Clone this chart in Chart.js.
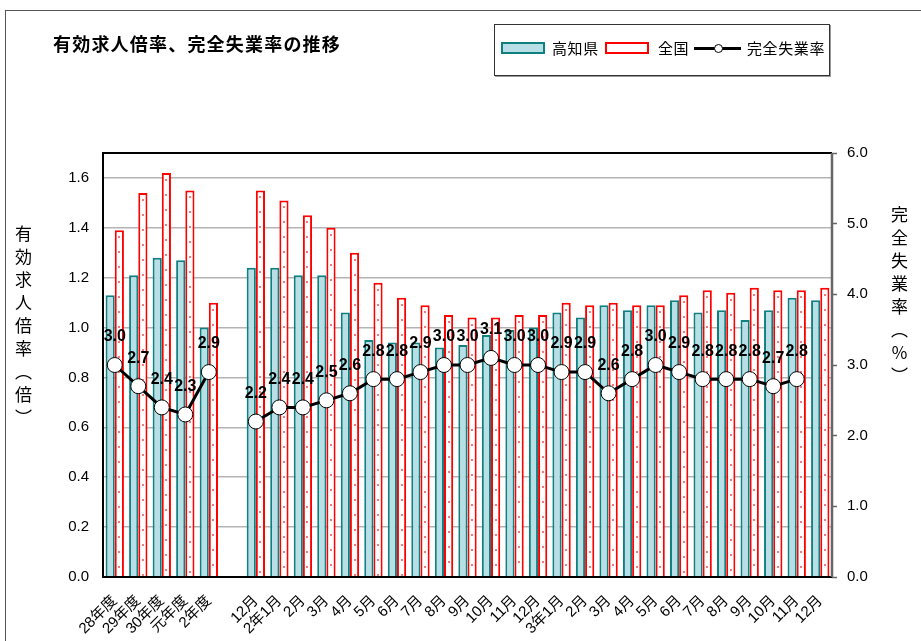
<!DOCTYPE html>
<html lang="ja">
<head>
<meta charset="utf-8">
<script src="https://cdn.jsdelivr.net/npm/chart.js@4.4.0/dist/chart.umd.min.js"></script>
<style>
  body { margin: 0; background: #fff; }
  #wrap { position: relative; width: 921px; height: 641px; overflow: hidden; font-family: "Liberation Sans", "Noto Sans CJK JP", sans-serif; }
  #frame { position: absolute; left: 5px; top: 10px; width: 960px; height: 700px; border: 1px solid #555; }
  #chart { position: absolute; left: 0; top: 0; }
  #title { position: absolute; left: 53px; top: 30px; font: bold 18px "Noto Sans CJK JP", sans-serif; letter-spacing: 1.2px; color: #000; white-space: nowrap; }
  #legend { position: absolute; left: 494px; top: 24px; width: 334px; height: 50px; border: 1px solid #333; box-shadow: 1px 1px 0 #999; background: #fff; }
  #legend .sw { position: absolute; top: 17px; width: 40px; height: 8px; }
  #legend .txt { position: absolute; top: 13px; font: 15px "Noto Sans CJK JP", sans-serif; letter-spacing: 0.6px; line-height: 20px; white-space: nowrap; }
  .ytitle { position: absolute; writing-mode: vertical-rl; font: 17px "Noto Sans CJK JP", sans-serif; letter-spacing: 6px; color: #000; }
</style>
</head>
<body>
<div id="wrap">
  <div id="frame"></div>
  <canvas id="chart" width="921" height="641"></canvas>
  <div id="title">有効求人倍率、完全失業率の推移</div>
  <div id="legend">
    <div class="sw" style="left:6px;background:#b8dee6;border:2px solid #0e8080;"></div>
    <div class="txt" style="left:57px;">高知県</div>
    <div class="sw" style="left:110px;background:#fff;border:2px solid #ff0000;"></div>
    <div class="txt" style="left:163px;">全国</div>
    <div style="position:absolute;left:199px;top:22px;width:47px;height:3px;background:#000;"></div>
    <div style="position:absolute;left:219px;top:19px;width:7px;height:7px;border:1px solid #000;border-radius:50%;background:#fff;"></div>
    <div class="txt" style="left:252px;">完全失業率</div>
  </div>
  <div class="ytitle" style="left:11px;top:225px;">有効求人倍率（倍）</div>
  <div class="ytitle" style="left:887px;top:206px;">完全失業率（％）</div>
</div>
<script>
// categories: fiscal years, an empty slot, then months
const labels = ["28年度", "29年度", "30年度", "元年度", "2年度", "",
  "12月", "2年1月", "2月", "3月", "4月", "5月", "6月", "7月", "8月", "9月", "10月", "11月", "12月",
  "3年1月", "2月", "3月", "4月", "5月", "6月", "7月", "8月", "9月", "10月", "11月", "12月"];

// 有効求人倍率 (倍)
const kochi = [1.13, 1.21, 1.28, 1.27, 1.00, null,
  1.24, 1.24, 1.21, 1.21, 1.06, 0.95, 0.94, 0.94, 0.92, 0.93, 0.97, 0.99, 1.00,
  1.06, 1.04, 1.09, 1.07, 1.09, 1.11, 1.06, 1.07, 1.03, 1.07, 1.12, 1.11];
const zenkoku = [1.39, 1.54, 1.62, 1.55, 1.10, null,
  1.55, 1.51, 1.45, 1.40, 1.30, 1.18, 1.12, 1.09, 1.05, 1.04, 1.04, 1.05, 1.05,
  1.10, 1.09, 1.10, 1.09, 1.09, 1.13, 1.15, 1.14, 1.16, 1.15, 1.15, 1.16];

// 完全失業率 (%)
const unemployment = [3.0, 2.7, 2.4, 2.3, 2.9, null,
  2.2, 2.4, 2.4, 2.5, 2.6, 2.8, 2.8, 2.9, 3.0, 3.0, 3.1, 3.0, 3.0,
  2.9, 2.9, 2.6, 2.8, 3.0, 2.9, 2.8, 2.8, 2.8, 2.7, 2.8, null];

const FONT = '"Liberation Sans", "Noto Sans CJK JP", sans-serif';

// frame round the plot area
const plotBorder = {
  id: 'plotBorder',
  afterDatasetsDraw(chart) {
    const { ctx, chartArea: a } = chart;
    ctx.save();
    ctx.strokeStyle = '#000';
    ctx.lineWidth = 2;
    ctx.beginPath();
    ctx.moveTo(a.right, a.top);
    ctx.lineTo(a.left, a.top);
    ctx.lineTo(a.left, a.bottom);
    ctx.lineTo(a.right, a.bottom);
    ctx.stroke();
    ctx.strokeStyle = '#666';
    ctx.lineWidth = 2.5;
    ctx.beginPath();
    ctx.moveTo(a.right, a.top);
    ctx.lineTo(a.right, a.bottom);
    ctx.stroke();
    ctx.restore();
  }
};

// small dots inside the 全国 bars
const dotFill = {
  id: 'dotFill',
  afterDatasetDraw(chart, args) {
    if (args.index !== 1) return;
    const ctx = chart.ctx;
    ctx.save();
    ctx.fillStyle = '#f27a7a';
    args.meta.data.forEach((bar, i) => {
      if (zenkoku[i] == null) return;
      const p = bar.getProps(['x', 'y', 'base'], true);
      for (let y = p.y + 6; y < p.base - 2; y += 15) {
        ctx.fillRect(Math.round(p.x) - 1, Math.round(y), 2, 2);
      }
    });
    ctx.restore();
  }
};

// value labels above the line points
const pointLabels = {
  id: 'pointLabels',
  afterDatasetsDraw(chart) {
    const ctx = chart.ctx;
    const meta = chart.getDatasetMeta(2);
    ctx.save();
    ctx.font = 'bold 16px "Liberation Sans", sans-serif';
    ctx.fillStyle = '#000';
    ctx.textAlign = 'center';
    ctx.textBaseline = 'middle';
    meta.data.forEach((pt, i) => {
      const v = unemployment[i];
      if (v == null) return;
      ctx.fillText(v.toFixed(1), pt.x, pt.y - 28);
    });
    ctx.restore();
  }
};

new Chart(document.getElementById('chart'), {
  data: {
    labels: labels,
    datasets: [
      {
        type: 'bar',
        label: '高知県',
        data: kochi,
        backgroundColor: '#b8dee6',
        borderColor: '#0e8080',
        borderWidth: 2,
        yAxisID: 'y',
        order: 1,
        barPercentage: 1.0,
        categoryPercentage: 0.78
      },
      {
        type: 'bar',
        label: '全国',
        data: zenkoku,
        backgroundColor: '#fff',
        borderColor: '#ff0000',
        borderWidth: 2,
        yAxisID: 'y',
        order: 2,
        barPercentage: 1.0,
        categoryPercentage: 0.78
      },
      {
        type: 'line',
        label: '完全失業率',
        data: unemployment,
        borderColor: '#000',
        borderWidth: 3,
        pointRadius: 7.5,
        pointBackgroundColor: '#fff',
        pointBorderColor: '#000',
        pointBorderWidth: 1,
        spanGaps: false,
        tension: 0,
        yAxisID: 'y1',
        order: 0
      }
    ]
  },
  options: {
    responsive: false,
    animation: false,
    layout: { padding: { top: 153, left: 0, right: 0, bottom: 0 } },
    plugins: {
      legend: { display: false },
      tooltip: { enabled: false }
    },
    scales: {
      x: {
        grid: { display: false },
        border: { display: false },
        ticks: {
          autoSkip: false,
          maxRotation: 45,
          minRotation: 45,
          padding: 7,
          color: '#000',
          font: { family: FONT, size: 15 }
        },
        afterFit(scale) { scale.height = 64; }
      },
      y: {
        position: 'left',
        min: 0,
        max: 1.7,
        ticks: {
          stepSize: 0.2,
          includeBounds: false,
          padding: 14,
          color: '#000',
          font: { family: FONT, size: 15 },
          callback: (v) => v.toFixed(1)
        },
        grid: { color: '#b4b4b4', lineWidth: 1.5, drawTicks: false },
        border: { display: false },
        afterFit(scale) { scale.width = 103; }
      },
      y1: {
        position: 'right',
        min: 0,
        max: 6,
        ticks: {
          stepSize: 1,
          padding: 10,
          color: '#000',
          font: { family: FONT, size: 15 },
          callback: (v) => v.toFixed(1)
        },
        grid: { drawOnChartArea: false, tickLength: 5, tickColor: '#666', tickWidth: 1.5 },
        border: { display: false },
        afterFit(scale) { scale.width = 89; }
      }
    }
  },
  plugins: [plotBorder, dotFill, pointLabels]
});
</script>
</body>
</html>
